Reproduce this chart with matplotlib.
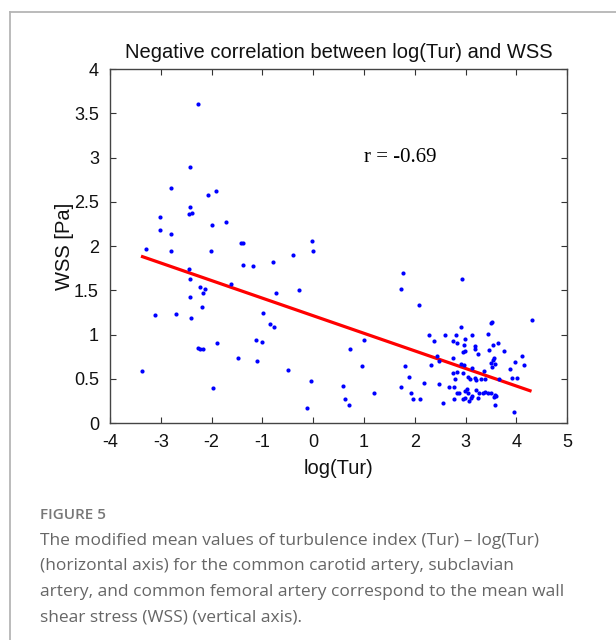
import matplotlib

matplotlib.use("Agg")
import matplotlib.pyplot as plt
from matplotlib.lines import Line2D

# log(Tur) vs WSS
log_tur = [
    -2.27, -2.43, -2.79, -2.07, -1.91, -3.02, -2.43, -2.45, -2.38, -3.02,
    -2.79, -1.99, -1.72, -1.42, -1.38, -3.30, -2.79, -2.02, -0.39, -0.03,
    0.00, -2.45, -2.43, -1.39, -1.18, -0.80, -2.22, -2.13, -2.16, -1.62,
    -0.74, -0.27, -2.43, -2.18, -3.11, -2.71, -2.40, -0.99, -0.85, -0.78,
    -1.12, -1.00, -2.27, -2.22, -2.17, -1.89, -1.48, -1.11, -3.37, -0.50,
    -0.05, -1.98, -0.12,
    0.59, 0.63, 0.70, 0.72, 0.97, 1.01, 1.20, 1.73, 1.77, 2.08, 2.94, 4.31,
    3.51, 3.53, 2.92, 2.29, 2.60, 2.82, 3.13, 3.45, 2.38, 2.75,
    2.84, 2.99, 3.19, 3.18, 2.97, 3.54, 3.64, 3.47, 3.76, 2.96,
    2.99, 3.25, 2.43, 2.76, 3.56, 3.55, 2.47, 1.80, 2.33, 2.92,
    2.97, 3.12, 3.51, 3.59, 3.53, 3.97, 4.12, 4.16, 3.88, 2.84,
    2.75, 2.96, 3.36, 1.88, 2.80, 3.05, 3.09, 3.19, 3.20, 3.31,
    3.39, 3.65, 3.92, 4.01, 2.19, 2.48, 1.72, 2.67, 2.77, 2.83,
    2.87, 2.98, 3.03, 3.05, 3.21, 3.26, 3.34, 3.38, 3.45, 3.50,
    3.58, 1.93, 1.96, 2.10, 2.56, 2.78, 2.95, 2.99, 3.07, 3.10,
    3.13, 3.24, 3.57, 3.60, 3.58, 3.95,
]
wss = [
    3.61, 2.89, 2.66, 2.58, 2.62, 2.33, 2.44, 2.36, 2.37, 2.18,
    2.14, 2.24, 2.27, 2.03, 2.04, 1.97, 1.94, 1.95, 1.90, 2.06,
    1.95, 1.74, 1.63, 1.79, 1.77, 1.82, 1.54, 1.52, 1.47, 1.57,
    1.47, 1.50, 1.43, 1.31, 1.22, 1.23, 1.19, 1.24, 1.12, 1.08,
    0.94, 0.92, 0.85, 0.84, 0.84, 0.90, 0.73, 0.70, 0.59, 0.60,
    0.48, 0.40, 0.17,
    0.42, 0.27, 0.20, 0.84, 0.65, 0.94, 0.34, 1.52, 1.70, 1.33, 1.63, 1.16,
    1.13, 1.14, 1.08, 1.00, 1.00, 1.00, 0.99, 1.01, 0.93, 0.93,
    0.91, 0.95, 0.87, 0.84, 0.88, 0.88, 0.90, 0.82, 0.81, 0.80,
    0.81, 0.78, 0.76, 0.74, 0.73, 0.71, 0.70, 0.65, 0.66, 0.67,
    0.66, 0.62, 0.68, 0.67, 0.63, 0.69, 0.76, 0.66, 0.61, 0.58,
    0.56, 0.56, 0.59, 0.52, 0.50, 0.52, 0.50, 0.51, 0.49, 0.50,
    0.50, 0.50, 0.51, 0.51, 0.45, 0.44, 0.41, 0.41, 0.41, 0.34,
    0.34, 0.36, 0.38, 0.34, 0.37, 0.34, 0.34, 0.35, 0.34, 0.34,
    0.32, 0.34, 0.27, 0.27, 0.23, 0.27, 0.27, 0.28, 0.25, 0.28,
    0.30, 0.28, 0.29, 0.31, 0.20, 0.12,
]

fit_range = [-3.36, 4.27]
fit_intercept = 1.213
fit_slope = -0.1986
r_text = "r = -0.69"

x_ticks = [-4, -3, -2, -1, 0, 1, 2, 3, 4, 5]
y_ticks = [0, 0.5, 1, 1.5, 2, 2.5, 3, 3.5, 4]
y_tick_labels = ["0", "0.5", "1", "1.5", "2", "2.5", "3", "3.5", "4"]

caption_head = "FIGURE 5"
caption_lines = [
    "The modified mean values of turbulence index (Tur) \u2013 log(Tur)",
    "(horizontal axis) for the common carotid artery, subclavian",
    "artery, and common femoral artery correspond to the mean wall",
    "shear stress (WSS) (vertical axis).",
]

plt.rcParams["font.family"] = ["Liberation Sans", "DejaVu Sans"]
plt.rcParams["axes.unicode_minus"] = False

fig = plt.figure(figsize=(6.16, 6.4), dpi=100)
ax = fig.add_axes([0.1786, 0.339, 0.742, 0.553])

ax.scatter(log_tur, wss, s=9, color="#0000ff", linewidths=0, zorder=3)
fit_y = [fit_intercept + fit_slope * v for v in fit_range]
ax.plot(fit_range, fit_y, color="#ff0000", linewidth=2.3, zorder=2)
ax.text(1.0, 3.0, r_text, fontsize=15, family="Liberation Serif",
        va="center", ha="left")

ax.set_xlim(-4, 5)
ax.set_ylim(0, 4)
ax.set_xticks(x_ticks)
ax.set_yticks(y_ticks)
ax.set_yticklabels(y_tick_labels)
ax.tick_params(direction="in", length=4, width=0.8, top=True, right=True,
               labelsize=13, pad=8, colors="#333333", labelcolor="#111111")
for sp in ax.spines.values():
    sp.set_color("#444444")
    sp.set_linewidth(1.0)

ax.set_title("Negative correlation between log(Tur) and WSS", fontsize=14.5,
             pad=8, color="#111111")
ax.set_xlabel("log(Tur)", fontsize=14.5, labelpad=6, color="#111111")
ax.set_ylabel("WSS [Pa]", fontsize=14.5, labelpad=0, color="#111111")

# page frame around the figure panel
frame_color = "#b5b5b5"
fig.add_artist(Line2D([10 / 616, 1.0], [1 - 12 / 640, 1 - 12 / 640],
                      transform=fig.transFigure, color=frame_color, linewidth=1.3))
fig.add_artist(Line2D([10 / 616, 10 / 616], [0.0, 1 - 12 / 640],
                      transform=fig.transFigure, color=frame_color, linewidth=1.3))

fig.text(40 / 616, 1 - 515 / 640, caption_head, fontsize=11,
         family=["Open Sans", "DejaVu Sans"], weight="semibold",
         color="#777777", va="center", ha="left")
for i, line in enumerate(caption_lines):
    fig.text(40 / 616, 1 - (541 + 25.4 * i) / 640, line, fontsize=12.5,
             family=["Open Sans", "DejaVu Sans"], color="#666666",
             va="center", ha="left")

fig.savefig("out.png", dpi=100)
